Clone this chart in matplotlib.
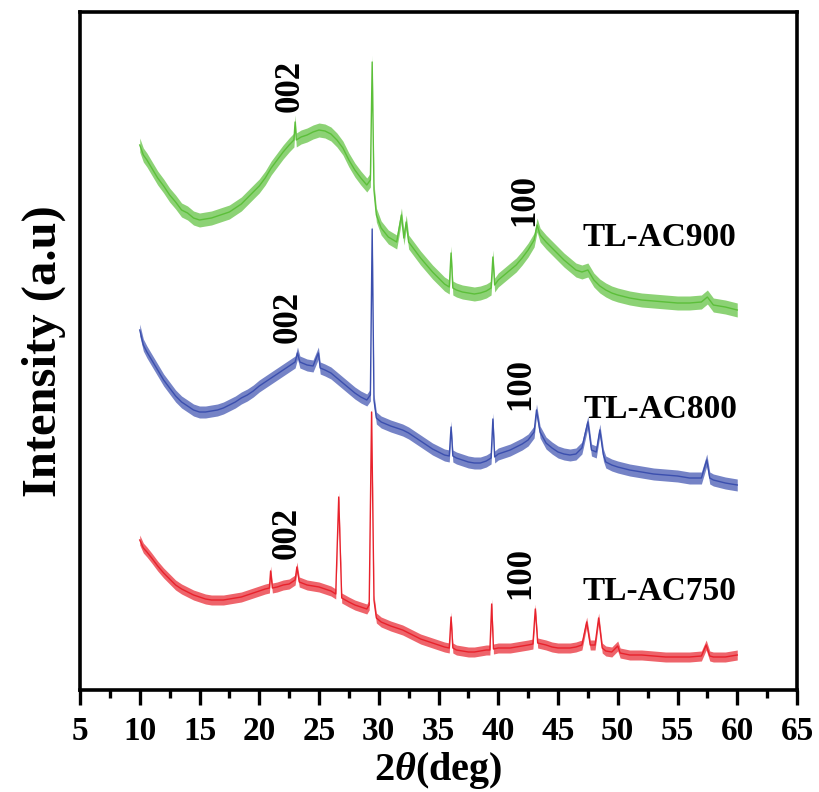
import matplotlib
matplotlib.use("Agg")
import matplotlib.pyplot as plt
from matplotlib.ticker import MultipleLocator

plt.rcParams['font.family'] = ['Liberation Serif', 'DejaVu Serif']
plt.rcParams['font.weight'] = 'bold'
plt.rcParams['mathtext.fontset'] = 'custom'
plt.rcParams['mathtext.rm'] = 'Liberation Serif:bold'
plt.rcParams['mathtext.it'] = 'Liberation Serif:italic:bold'
plt.rcParams['mathtext.bf'] = 'Liberation Serif:bold'

# ---- data (2theta in degrees, intensity in arbitrary units, already offset) ----
x_900 = [10.0, 10.3, 10.6, 11.0, 11.5, 12.0, 12.5, 13.0, 13.5, 14.0, 14.5, 15.0, 15.5, 16.0, 16.5,
         17.0, 17.5, 18.0, 18.5, 19.0, 19.5, 20.0, 20.5, 21.0, 21.5, 22.0, 22.5, 22.9, 23.0, 23.1,
         23.5, 24.0, 24.5, 25.0, 25.5, 26.0, 26.5, 27.0, 27.5, 28.0, 28.5, 29.0, 29.3, 29.45, 29.6,
         29.8, 30.2, 30.8, 31.5, 31.9, 32.1, 32.3, 32.5, 33.0, 33.5, 34.0, 34.5, 35.0, 35.5, 35.9,
         36.05, 36.2, 36.5, 37.0, 37.5, 38.0, 38.5, 39.0, 39.4, 39.55, 39.7, 40.0, 40.5, 41.0, 41.5,
         42.0, 42.5, 43.0, 43.25, 43.5, 44.0, 44.5, 45.0, 45.5, 46.0, 46.5, 47.0, 47.5, 48.0, 48.5,
         49.0, 49.5, 50.0, 51.0, 52.0, 53.0, 54.0, 55.0, 56.0, 57.0, 57.5, 58.0, 59.0, 60.0]
y_900 = [545, 535, 530, 522, 512, 504, 495, 488, 480, 477, 472, 470, 471, 472, 474,
         476, 478, 482, 486, 492, 498, 504, 512, 522, 530, 538, 545, 550, 568, 550,
         553, 555, 558, 560, 559, 556, 550, 542, 530, 520, 512, 505, 510, 628, 500,
         475, 462, 453, 448, 475, 452, 468, 448, 440, 432, 425, 418, 412, 406, 403,
         437, 402, 400, 398, 397, 396, 397, 399, 402, 433, 405, 410, 415, 420, 425,
         432, 440, 450, 465, 455, 448, 442, 436, 430, 425, 420, 418, 420, 410, 404,
         400, 397, 395, 392, 390, 389, 388, 387, 387, 388, 393, 385, 383, 380]

x_800 = [10.0, 10.3, 10.6, 11.0, 11.5, 12.0, 12.5, 13.0, 13.5, 14.0, 14.5, 15.0, 15.5, 16.0, 16.5,
         17.0, 17.5, 18.0, 18.5, 19.0, 19.5, 20.0, 20.5, 21.0, 21.5, 22.0, 22.5, 23.0, 23.2, 23.4,
         24.0, 24.5, 24.95, 25.1, 25.5, 26.0, 26.5, 27.0, 27.5, 28.0, 28.5, 29.0, 29.3, 29.45, 29.6,
         29.8, 30.2, 31.0, 31.5, 32.0, 32.5, 33.0, 33.5, 34.0, 34.5, 35.0, 35.5, 35.9, 36.05, 36.2,
         36.5, 37.0, 37.5, 38.0, 38.5, 39.0, 39.4, 39.55, 39.7, 40.0, 40.5, 41.0, 41.5, 42.0, 42.5,
         43.0, 43.2, 43.5, 44.0, 44.5, 45.0, 45.5, 46.0, 46.5, 47.0, 47.5, 47.8, 48.2, 48.5, 48.8,
         49.0, 49.5, 50.0, 51.0, 52.0, 53.0, 54.0, 55.0, 56.0, 57.0, 57.45, 57.7, 58.0, 59.0, 60.0]
y_800 = [360, 345, 338, 330, 320, 310, 302, 294, 288, 284, 280, 278, 278, 279, 280,
         282, 285, 288, 292, 295, 299, 304, 308, 312, 316, 320, 324, 328, 337, 328,
         325, 324, 337, 322, 320, 317, 312, 307, 302, 297, 293, 290, 295, 461, 290,
         272, 268, 264, 262, 260, 257, 253, 249, 245, 241, 238, 235, 234, 263, 234,
         232, 230, 228, 227, 227, 229, 232, 271, 233, 236, 238, 240, 243, 246, 250,
         258, 280, 258, 247, 242, 238, 236, 235, 236, 242, 268, 240, 238, 260, 235,
         228, 225, 223, 220, 218, 216, 215, 214, 212, 212, 230, 212, 210, 207, 205]

x_750 = [10.0, 10.3, 10.6, 11.0, 11.5, 12.0, 12.5, 13.0, 13.5, 14.0, 14.5, 15.0, 15.5, 16.0, 16.5,
         17.0, 17.5, 18.0, 18.5, 19.0, 19.5, 20.0, 20.5, 20.85, 20.95, 21.1, 21.5, 22.0, 22.5, 23.0,
         23.15, 23.35, 24.0, 24.5, 25.0, 25.5, 26.0, 26.4, 26.65, 26.9, 27.5, 28.0, 28.5, 29.0, 29.2,
         29.4, 29.6, 29.8, 30.2, 31.0, 31.5, 32.0, 32.5, 33.0, 33.5, 34.0, 34.5, 35.0, 35.5, 35.9,
         36.05, 36.2, 36.5, 37.0, 37.5, 38.0, 38.5, 39.0, 39.3, 39.45, 39.6, 40.0, 40.5, 41.0, 41.5,
         42.0, 42.5, 42.9, 43.1, 43.3, 44.0, 44.5, 45.0, 45.5, 46.0, 46.5, 47.0, 47.4, 47.7, 48.1,
         48.4, 48.7, 49.0, 49.5, 50.0, 50.2, 51.0, 52.0, 53.0, 54.0, 55.0, 56.0, 57.0, 57.4, 57.7,
         58.0, 59.0, 60.0]
y_750 = [150, 142, 138, 132, 124, 117, 111, 105, 101, 98, 95, 93, 91, 90, 90,
         90, 91, 92, 93, 95, 97, 99, 101, 102, 119, 102, 103, 105, 106, 110,
         123, 108, 105, 104, 103, 101, 99, 96, 193, 92, 88, 85, 83, 81, 85,
         278, 90, 72, 68, 64, 62, 60, 57, 54, 51, 49, 47, 45, 43, 42,
         73, 42, 40, 39, 38, 38, 39, 40, 40, 86, 41, 42, 42, 42, 43,
         44, 45, 46, 81, 47, 45, 43, 42, 42, 42, 43, 45, 68, 45, 45,
         72, 42, 39, 38, 44, 37, 35, 35, 34, 33, 33, 33, 34, 45, 34,
         33, 33, 35]

series_names = ['TL-AC900', 'TL-AC800', 'TL-AC750']
series_colors = ['#5cbf3a', '#3b4fae', '#e8222c']
series_x = [x_900, x_800, x_750]
series_y = [y_900, y_800, y_750]
band_half = [7, 6, 5]

name_pos = [(53.5, 453), (53.6, 280), (53.5, 99)]
hkl_labels = ['002', '100']
hkl_pos = [[(22.6, 604), (42.2, 490)],
           [(22.4, 373), (41.9, 306)],
           [(22.3, 157), (41.9, 117)]]

# ---- figure ----
fig = plt.figure(figsize=(8.19, 7.92), dpi=100)
ax = fig.add_axes([80 / 819, 1 - 690 / 792, 717 / 819, 678 / 792])

for xs, ys, c, h in zip(series_x, series_y, series_colors, band_half):
    lo = [v - h for v in ys]
    hi = [v + h for v in ys]
    ax.fill_between(xs, lo, hi, color=c, alpha=0.7, linewidth=0)
    ax.plot(xs, ys, color=c, linewidth=1.0)

for name, (px, py) in zip(series_names, name_pos):
    ax.text(px, py, name, ha='center', va='center', fontsize=24, fontweight='bold')

for pos in hkl_pos:
    for lab, (px, py) in zip(hkl_labels, pos):
        ax.text(px, py, lab, ha='center', va='center', rotation=90,
                fontsize=25, fontweight='bold')

ax.set_xlim(5, 65)
ax.set_ylim(0, 678)
ax.xaxis.set_major_locator(MultipleLocator(5))
ax.xaxis.set_minor_locator(MultipleLocator(2.5))
ax.set_yticks([])
ax.tick_params(axis='x', which='major', direction='out', length=11, width=2.4,
               labelsize=24, pad=8)
ax.tick_params(axis='x', which='minor', direction='out', length=6, width=2.4)
for lab in ax.get_xticklabels():
    lab.set_fontweight('bold')
for sp in ax.spines.values():
    sp.set_linewidth(2.6)

ax.set_xlabel(r'2$\mathit{\theta}$(deg)', fontsize=29, fontweight='bold', labelpad=2)
ax.set_ylabel('Intensity (a.u)', fontsize=35, fontweight='bold', labelpad=10)

fig.savefig('out.png', dpi=100)
